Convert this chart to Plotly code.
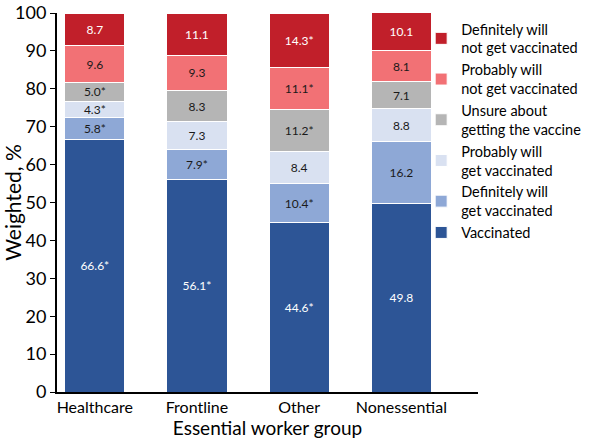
import plotly.graph_objects as go

groups = ["Healthcare", "Frontline", "Other", "Nonessential"]

series_names = [
    "Vaccinated",
    "Definitely will<br>get vaccinated",
    "Probably will<br>get vaccinated",
    "Unsure about<br>getting the vaccine",
    "Probably will<br>not get vaccinated",
    "Definitely will<br>not get vaccinated",
]

vaccinated = [66.6, 56.1, 44.6, 49.8]
definitely_will = [5.8, 7.9, 10.4, 16.2]
probably_will = [4.3, 7.3, 8.4, 8.8]
unsure = [5.0, 8.3, 11.2, 7.1]
probably_not = [9.6, 9.3, 11.1, 8.1]
definitely_not = [8.7, 11.1, 14.3, 10.1]

# significance markers (asterisk) per series
sig_vaccinated = [True, True, True, False]
sig_definitely_will = [True, True, True, False]
sig_probably_will = [True, False, False, False]
sig_unsure = [True, False, True, False]
sig_probably_not = [False, False, True, False]
sig_definitely_not = [False, False, True, False]

colors = ["#2D5596", "#8EA8D6", "#D9E1F1", "#B5B5B5", "#F27175", "#C11F2A"]
text_colors = ["white", "#1a1a1a", "#1a1a1a", "#1a1a1a", "#1a1a1a", "white"]

all_values = [vaccinated, definitely_will, probably_will, unsure, probably_not, definitely_not]
all_sig = [sig_vaccinated, sig_definitely_will, sig_probably_will, sig_unsure, sig_probably_not, sig_definitely_not]

FONT = "Lato, 'Open Sans', sans-serif"

fig = go.Figure()
for name, vals, sig, col, tcol in zip(series_names, all_values, all_sig, colors, text_colors):
    labels = [f"{v:.1f}" + ("*" if s else "") for v, s in zip(vals, sig)]
    fig.add_trace(go.Bar(
        x=groups, y=vals, name=name,
        marker=dict(color=col, line=dict(color="white", width=1)),
        text=labels, textposition="inside", insidetextanchor="middle",
        textangle=0, constraintext="none",
        textfont=dict(size=12, color=tcol, family=FONT),
        width=0.59,
    ))

fig.update_layout(
    barmode="stack",
    width=600, height=448,
    margin=dict(l=57, r=122, t=13, b=56, autoexpand=False),
    plot_bgcolor="white", paper_bgcolor="white",
    font=dict(family=FONT, color="black"),
    showlegend=True,
    legend=dict(
        traceorder="reversed",
        x=0.865, y=1.0, xanchor="left", yanchor="top",
        font=dict(size=14.5, family=FONT, color="black"),
        bgcolor="rgba(0,0,0,0)",
        itemwidth=30,
    ),
    xaxis=dict(
        range=[-0.37, 3.75],
        showline=True, linecolor="black", linewidth=1.5,
        ticks="", tickfont=dict(size=16, family=FONT),
        title=dict(text="Essential worker group", font=dict(size=19, family=FONT), standoff=4),
    ),
    yaxis=dict(
        range=[0, 100], dtick=10,
        showline=True, linecolor="black", linewidth=2,
        ticks="outside", ticklen=5, tickcolor="black",
        showgrid=False, zeroline=False,
        tickfont=dict(size=18, family=FONT),
        title=dict(text="Weighted, %", font=dict(size=21, family=FONT), standoff=1),
    ),
)

# remove the browser's default 8px body margin so the figure sits at the page origin
fig.write_html(
    "out.html",
    config={"displayModeBar": False},
    post_script="document.body.style.margin='0px';",
)
